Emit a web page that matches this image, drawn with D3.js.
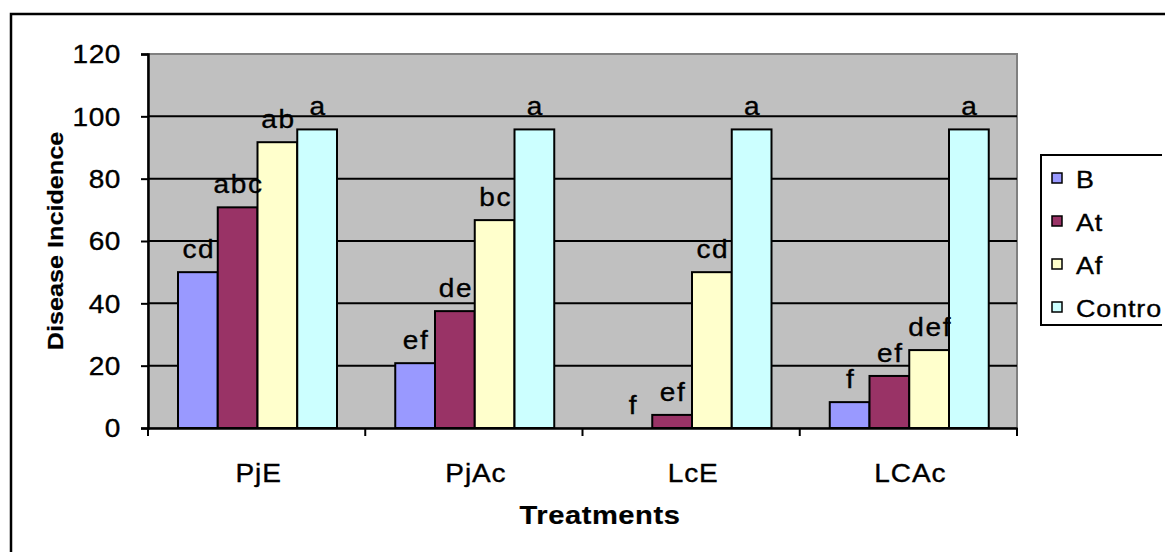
<!DOCTYPE html>
<html>
<head>
<meta charset="utf-8">
<script src="https://cdn.jsdelivr.net/npm/d3@7/dist/d3.min.js"></script>
<style>
  html, body { margin: 0; padding: 0; background: #fff; overflow: hidden; }
  svg { display: block; font-family: "Liberation Sans", Arial, sans-serif; }
</style>
</head>
<body>
<svg id="chart" width="1165" height="552"></svg>
<script>
// Treatments on the x axis
const treatments = ["PjE", "PjAc", "LcE", "LCAc"];
// Series shown in the legend
const seriesNames = ["B", "At", "Af", "Control"];
const seriesColors = ["#9999FF", "#993366", "#FFFFCC", "#CCFFFF"];
// Disease incidence (%) per treatment, one array per series
const valuesB       = [50.0, 20.8, 0.0, 8.3];
const valuesAt      = [70.8, 37.5, 4.2, 16.7];
const valuesAf      = [91.7, 66.7, 50.0, 25.0];
const valuesControl = [95.8, 95.8, 95.8, 95.8];
// Significance letters above each bar
const lettersB       = ["cd", "ef", "f", "f"];
const lettersAt      = ["abc", "de", "ef", "ef"];
const lettersAf      = ["ab", "bc", "cd", "def"];
const lettersControl = ["a", "a", "a", "a"];
const yTicks = [0, 20, 40, 60, 80, 100, 120];

const seriesValues = [valuesB, valuesAt, valuesAf, valuesControl];
const seriesLetters = [lettersB, lettersAt, lettersAf, lettersControl];

const svg = d3.select("#chart");
const plot = { left: 148, right: 1017, top: 54, bottom: 428 };
const SX = 1.12; // horizontal widening of the lettering

const x0 = d3.scaleBand().domain(treatments).range([plot.left, plot.right]).padding(0);
const x1 = d3.scaleBand().domain(seriesNames).range([30, 189]).padding(0);
const y = d3.scaleLinear().domain([0, 120]).range([plot.bottom, plot.top]);

// helper for widened text anchored at (x, y)
function label(g, x, yy, txt, opts) {
  const o = Object.assign({ size: 22, anchor: "middle", weight: "normal", rotate: 0, spacing: 0, baseline: "auto" }, opts || {});
  return g.append("text")
    .attr("transform", `translate(${x},${yy}) rotate(${o.rotate}) scale(${SX},1)`)
    .attr("text-anchor", o.anchor)
    .attr("dominant-baseline", o.baseline)
    .attr("font-size", o.size)
    .attr("font-weight", o.weight)
    .attr("letter-spacing", o.spacing)
    .attr("fill", "#000")
    .attr("stroke", "#000")
    .attr("stroke-width", o.weight === "bold" ? 0.2 : 0.35)
    .text(txt);
}

// outer chart frame
svg.append("rect")
  .attr("x", 11).attr("y", 14).attr("width", 1180).attr("height", 600)
  .attr("fill", "#fff").attr("stroke", "#000").attr("stroke-width", 2.5);

// plot area background
svg.append("rect")
  .attr("x", plot.left).attr("y", plot.top)
  .attr("width", plot.right - plot.left).attr("height", plot.bottom - plot.top)
  .attr("fill", "#C0C0C0").attr("stroke", "#808080").attr("stroke-width", 2);

// horizontal gridlines
svg.append("g").selectAll("line").data(yTicks.filter(t => t > 0 && t < 120)).join("line")
  .attr("x1", plot.left).attr("x2", plot.right)
  .attr("y1", d => y(d)).attr("y2", d => y(d))
  .attr("stroke", "#000").attr("stroke-width", 2);

// bars
const groups = svg.append("g").selectAll("g").data(treatments).join("g")
  .attr("transform", d => `translate(${x0(d)},0)`);

groups.each(function(t, ti) {
  const g = d3.select(this);
  seriesNames.forEach((s, si) => {
    const v = seriesValues[si][ti];
    if (v > 0) {
      g.append("rect")
        .attr("x", x1(s)).attr("width", x1.bandwidth())
        .attr("y", y(v)).attr("height", y(0) - y(v))
        .attr("fill", seriesColors[si])
        .attr("stroke", "#000").attr("stroke-width", 2);
    }
  });
});

// letters above bars
groups.each(function(t, ti) {
  const g = d3.select(this);
  seriesNames.forEach((s, si) => {
    const v = seriesValues[si][ti];
    label(g, x1(s) + x1.bandwidth() / 2 + 1, y(v) - 14, seriesLetters[si][ti], { size: 25, spacing: 1.5 });
  });
});

// y axis
const yAxis = svg.append("g").attr("transform", `translate(${plot.left},0)`)
  .call(d3.axisLeft(y).tickValues(yTicks).tickSize(7).tickFormat(""));
yAxis.select(".domain").attr("stroke", "#000").attr("stroke-width", 2.5);
yAxis.selectAll(".tick line").attr("stroke", "#000").attr("stroke-width", 2);
yTicks.forEach(t => label(svg, 121, y(t) + 1, String(t), { size: 25, anchor: "end", baseline: "central", spacing: 0.5 }));

// x axis
const xAxis = svg.append("g").attr("transform", `translate(0,${plot.bottom})`)
  .call(d3.axisBottom(x0).tickSize(0).tickFormat(""));
xAxis.select(".domain").attr("stroke", "#000").attr("stroke-width", 2.5);
const bounds = treatments.map(d => x0(d)).concat([plot.right]);
svg.append("g").selectAll("line").data(bounds).join("line")
  .attr("x1", d => d).attr("x2", d => d)
  .attr("y1", plot.bottom).attr("y2", plot.bottom + 8)
  .attr("stroke", "#000").attr("stroke-width", 2);
treatments.forEach(t => label(svg, x0(t) + x0.bandwidth() / 2 + 2, 482, t, { size: 25, spacing: 0.8 }));

// axis titles
label(svg, 600, 524, "Treatments", { size: 26, weight: "bold", spacing: 0.5 });
label(svg, 63, 241, "Disease Incidence", { size: 22.5, weight: "bold", rotate: -90, spacing: 0 });

// legend
svg.append("defs").append("clipPath").attr("id", "legclip")
  .append("rect").attr("x", 1000).attr("y", 0).attr("width", 162).attr("height", 552);
const leg = svg.append("g").attr("clip-path", "url(#legclip)");
leg.append("rect")
  .attr("x", 1041).attr("y", 155).attr("width", 200).attr("height", 170)
  .attr("fill", "#fff").attr("stroke", "#000").attr("stroke-width", 2);
seriesNames.forEach((s, i) => {
  const cy = 178 + i * 43;
  leg.append("rect")
    .attr("x", 1052).attr("y", cy - 5).attr("width", 10).attr("height", 10)
    .attr("fill", seriesColors[i]).attr("stroke", "#000").attr("stroke-width", 1.5);
  label(leg, 1076, cy + 2, s, { size: 24, anchor: "start", baseline: "central", spacing: 0.8 });
});
</script>
</body>
</html>
